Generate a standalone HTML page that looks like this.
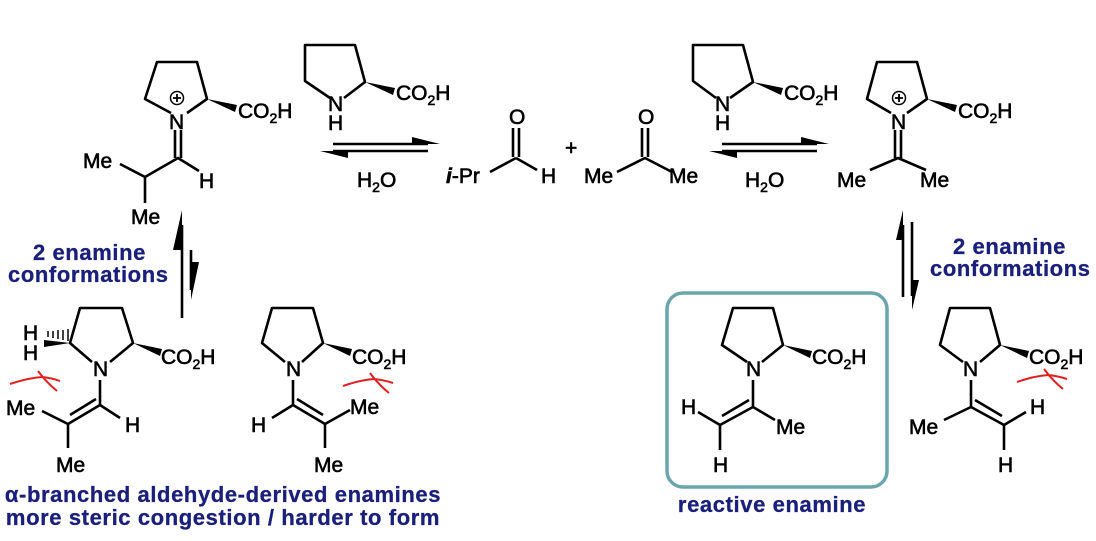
<!DOCTYPE html>
<html><head><meta charset="utf-8"><style>
html,body{margin:0;padding:0;background:#fff;}
svg{display:block}
text{font-family:"Liberation Sans",Arial,sans-serif;font-size:21px;fill:#000;stroke:#000;stroke-width:0.6}
.b{fill:#1a1f7a;stroke:#1a1f7a;font-weight:bold;font-size:22px;letter-spacing:0.6px;stroke-width:0.3}
.s{font-size:14px}
</style></head><body>
<svg width="1096" height="541" viewBox="0 0 1096 541" xmlns="http://www.w3.org/2000/svg">
<g stroke="#000" stroke-width="2.6" fill="none" stroke-linejoin="round">
<polyline points="171,113 145,99 157,62 197,62 207,99 187,113"/>
<line x1="175" y1="130" x2="175" y2="158"/><line x1="181" y1="130" x2="181" y2="158"/>
<polyline points="120,164 145,177 178,158 199,171"/>
<line x1="145" y1="177" x2="145" y2="203"/>
<polyline points="330,98 305,81 305,45 355,45 365,82 344,98"/>
<line x1="333" y1="144" x2="428" y2="144"/>
<line x1="333" y1="151" x2="428" y2="151"/>
<line x1="490" y1="172" x2="516" y2="158"/>
<line x1="516" y1="158" x2="537" y2="170"/>
<line x1="513" y1="128" x2="513" y2="157"/><line x1="519" y1="128" x2="519" y2="157"/>
<polyline points="617,172 645,158 672,172"/>
<line x1="642" y1="128" x2="642" y2="157"/><line x1="648" y1="128" x2="648" y2="157"/>
<polyline points="716,98 693,81 693,45 743,45 753,82 730,98"/>
<line x1="722" y1="144" x2="817" y2="144"/>
<line x1="722" y1="151" x2="817" y2="151"/>
<polyline points="891,113 867,99 877,62 917,62 927,99 907,113"/>
<line x1="895" y1="130" x2="895" y2="158"/><line x1="901" y1="130" x2="901" y2="158"/>
<polyline points="870,170 898,158 926,170"/>
<line x1="182" y1="225" x2="182" y2="318"/>
<line x1="191" y1="250" x2="191" y2="290"/>
<line x1="903" y1="225" x2="903" y2="297"/>
<line x1="912" y1="222" x2="912" y2="296"/>
<polyline points="92,362 70,343 80,308 122,308 133,343 110,362"/>
<line x1="100" y1="380" x2="100" y2="405"/>
<line x1="100" y1="405" x2="68" y2="424"/><line x1="96" y1="399" x2="70" y2="415"/>
<line x1="100" y1="405" x2="120" y2="418"/>
<line x1="68" y1="424" x2="42" y2="411"/>
<line x1="68" y1="424" x2="68" y2="448"/>
<polyline points="285,362 262,343 272,308 313,308 323,343 302,362"/>
<line x1="293" y1="380" x2="293" y2="405"/>
<line x1="293" y1="405" x2="325" y2="424"/><line x1="297" y1="399" x2="323" y2="415"/>
<line x1="293" y1="405" x2="272" y2="418"/>
<line x1="325" y1="424" x2="350" y2="410"/>
<line x1="325" y1="424" x2="325" y2="448"/>
<polyline points="747,362 722,345 733,308 773,308 783,345 762,362"/>
<line x1="753" y1="380" x2="753" y2="407"/>
<line x1="753" y1="407" x2="720" y2="425"/><line x1="749" y1="400" x2="722" y2="416"/>
<line x1="753" y1="407" x2="775" y2="420"/>
<line x1="720" y1="425" x2="698" y2="412"/>
<line x1="720" y1="425" x2="720" y2="450"/>
<polyline points="963,362 940,345 950,308 990,308 1000,345 980,362"/>
<line x1="971" y1="380" x2="971" y2="407"/>
<line x1="971" y1="407" x2="1004" y2="425"/><line x1="975" y1="400" x2="1002" y2="416"/>
<line x1="971" y1="407" x2="944" y2="420"/>
<line x1="1004" y1="425" x2="1026" y2="412"/>
<line x1="1004" y1="425" x2="1004" y2="450"/>
</g>
<g fill="#000" stroke="none">
<polygon points="207,99 237,105 235,112"/>
<polygon points="365,82 395,88 393,95"/>
<polygon points="753,82 783,88 781,95"/>
<polygon points="927,99 957,105 955,112"/>
<polygon points="133,343 162,349 160,356"/>
<polygon points="323,343 352,349 350,356"/>
<polygon points="783,345 812,351 810,358"/>
<polygon points="1000,345 1029,351 1027,358"/>
<polygon points="70,343 44,347 44,340" />
<polygon points="440,144 412,137 412,144"/>
<polygon points="320,151 348,158 348,151"/>
<polygon points="829,144 801,137 801,144"/>
<polygon points="709,151 737,158 737,151"/>
<polygon points="182,210 173,250 182,250"/>
<polygon points="191,300 199,262 191,262"/>
<polygon points="903,210 896,240 903,240"/>
<polygon points="912,310 919,280 912,280"/>
</g>
<g stroke="#000" stroke-width="1.5">
<line x1="48" y1="331" x2="48" y2="337"/><line x1="53" y1="331" x2="53" y2="338"/><line x1="58" y1="330" x2="58" y2="339"/><line x1="63" y1="330" x2="63" y2="340"/><line x1="68" y1="329" x2="68" y2="341"/>
</g>
<circle cx="177" cy="98" r="6.5" fill="none" stroke="#000" stroke-width="1.5"/>
<line x1="173" y1="98" x2="181" y2="98" stroke="#000" stroke-width="1.8"/><line x1="177" y1="94" x2="177" y2="102" stroke="#000" stroke-width="1.8"/>
<circle cx="899" cy="98" r="6.5" fill="none" stroke="#000" stroke-width="1.5"/>
<line x1="895" y1="98" x2="903" y2="98" stroke="#000" stroke-width="1.8"/><line x1="899" y1="94" x2="899" y2="102" stroke="#000" stroke-width="1.8"/>
<g stroke="#e02020" stroke-width="2" fill="none">
<path d="M10,384 Q28,378 42,377 Q52,378 60,381"/><path d="M38,371 Q46,382 57,391"/>
<path d="M343,386 Q360,380 374,379 Q384,380 393,383"/><path d="M370,373 Q378,384 389,393"/>
<path d="M1017,382 Q1034,376 1048,375 Q1058,376 1067,379"/><path d="M1044,369 Q1052,380 1063,389"/>
</g>
<rect x="667" y="293" width="220" height="194" rx="16" fill="none" stroke="#6aa6ab" stroke-width="3.5"/>
<text x="169" y="129">N</text>
<text x="238" y="118">CO<tspan class="s" dy="5">2</tspan><tspan dy="-5">H</tspan></text>
<text x="83" y="168">Me</text>
<text x="199" y="188">H</text>
<text x="131" y="224">Me</text>
<text x="328" y="111">N</text>
<text x="328" y="130">H</text>
<text x="396" y="100">CO<tspan class="s" dy="5">2</tspan><tspan dy="-5">H</tspan></text>
<text x="357" y="187">H<tspan class="s" dy="5">2</tspan><tspan dy="-5">O</tspan></text>
<text x="446" y="183"><tspan font-style="italic" font-weight="bold">i</tspan>-Pr</text>
<text x="509" y="124">O</text>
<text x="541" y="183">H</text>
<text x="565" y="155">+</text>
<text x="638" y="124">O</text>
<text x="584" y="183">Me</text>
<text x="669" y="183">Me</text>
<text x="715" y="111">N</text>
<text x="715" y="130">H</text>
<text x="784" y="100">CO<tspan class="s" dy="5">2</tspan><tspan dy="-5">H</tspan></text>
<text x="745" y="187">H<tspan class="s" dy="5">2</tspan><tspan dy="-5">O</tspan></text>
<text x="891" y="129">N</text>
<text x="958" y="118">CO<tspan class="s" dy="5">2</tspan><tspan dy="-5">H</tspan></text>
<text x="837" y="187">Me</text>
<text x="920" y="187">Me</text>
<text class="b" x="33" y="260">2 enamine</text>
<text class="b" x="8" y="282">conformations</text>
<text class="b" x="953" y="254">2 enamine</text>
<text class="b" x="930" y="276">conformations</text>
<text x="23" y="340">H</text>
<text x="23" y="360">H</text>
<text x="93" y="376">N</text>
<text x="161" y="364">CO<tspan class="s" dy="5">2</tspan><tspan dy="-5">H</tspan></text>
<text x="6" y="415">Me</text>
<text x="125" y="432">H</text>
<text x="56" y="472">Me</text>
<text x="286" y="376">N</text>
<text x="352" y="364">CO<tspan class="s" dy="5">2</tspan><tspan dy="-5">H</tspan></text>
<text x="251" y="432">H</text>
<text x="350" y="414">Me</text>
<text x="314" y="472">Me</text>
<text x="746" y="376">N</text>
<text x="812" y="364">CO<tspan class="s" dy="5">2</tspan><tspan dy="-5">H</tspan></text>
<text x="681" y="414">H</text>
<text x="776" y="434">Me</text>
<text x="713" y="472">H</text>
<text x="963" y="376">N</text>
<text x="1029" y="364">CO<tspan class="s" dy="5">2</tspan><tspan dy="-5">H</tspan></text>
<text x="909" y="434">Me</text>
<text x="1030" y="414">H</text>
<text x="998" y="472">H</text>
<text class="b" x="223" y="502" text-anchor="middle">α-branched aldehyde-derived enamines</text>
<text class="b" x="223" y="525" text-anchor="middle">more steric congestion / harder to form</text>
<text class="b" x="772" y="512" text-anchor="middle">reactive enamine</text>
</svg>
</body></html>
